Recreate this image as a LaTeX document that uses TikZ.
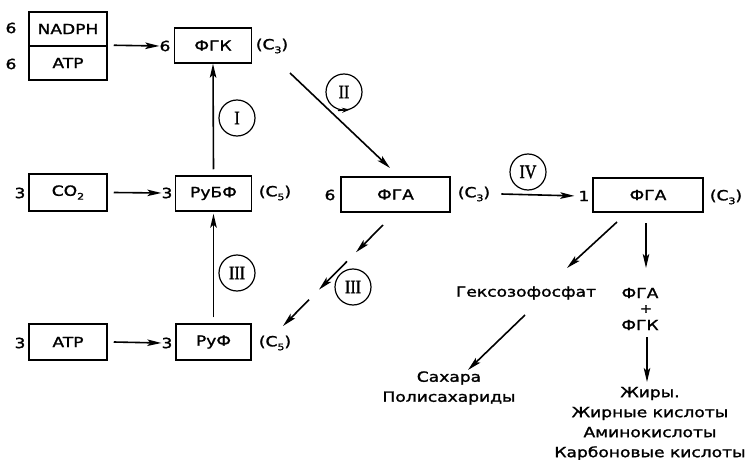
\documentclass[tikz,border=0pt]{standalone}
\usepackage{fontspec}
\setmainfont{DejaVu Sans}[FakeStretch=1.22,FakeBold=1.6]
\newfontfamily\romfont{Liberation Serif}[FakeStretch=0.85,FakeBold=1.5]
\usetikzlibrary{arrows.meta,calc}
\newcommand\Cs[1]{(C\raisebox{-0.5ex}{\small #1})}
\begin{document}
\begin{tikzpicture}[x=1pt,y=-1pt,
  font=\fontsize{14}{16}\selectfont,
  box/.style={draw,line width=1.5pt,minimum height=35pt,inner sep=0pt},
  arr/.style={line width=1.6pt,-{Stealth[length=14pt,width=6.5pt,inset=3pt]}},
  ring/.style={draw,circle,line width=1.2pt,minimum size=36pt,inner sep=0pt,font=\romfont\fontsize{19}{19}\selectfont},
  lbl/.style={inner sep=0pt},
  multi/.style={align=center,inner sep=0pt,font=\fontsize{14}{20}\selectfont}]
\useasboundingbox (0,0) rectangle (745,460);
% boxes
\node[box,minimum width=78pt,minimum height=34pt] (nadph) at (68,29) {NADPH};
\node[box,minimum width=78pt,minimum height=34pt] (atpA) at (68,63) {ATP};
\node[box,minimum width=77pt] (fgk) at (213,45.5) {ФГК};
\node[box,minimum width=78pt,minimum height=37pt] (co2) at (68,192.5) {CO\raisebox{-0.5ex}{\small 2}};
\node[box,minimum width=76pt] (rubf) at (213.5,193.5) {РуБФ};
\node[box,minimum width=109pt] (fgaA) at (395.5,194.5) {ФГА};
\node[box,minimum width=110pt,minimum height=34pt] (fgaB) at (648,195) {ФГА};
\node[box,minimum width=78pt,minimum height=36pt] (atpB) at (68,342) {ATP};
\node[box,minimum width=75pt,minimum height=36pt] (ruf) at (213.5,342) {РуФ};
% coefficients
\node[lbl] (n1) at (11,28) {6};
\node[lbl] (n2) at (11,64) {6};
\node[lbl] (n3) at (165,46) {6};
\node[lbl] (n4) at (20,193) {3};
\node[lbl] (n5) at (167,193) {3};
\node[lbl] (n6) at (330,195) {6};
\node[lbl] (n7) at (584,196) {1};
\node[lbl] (n8) at (20,343) {3};
\node[lbl] (n9) at (167,343) {3};
% carbon labels
\node[lbl] (c1) at (272,46) {\Cs3};
\node[lbl] (c2) at (275,193) {\Cs5};
\node[lbl] (c3) at (474,194) {\Cs3};
\node[lbl] (c4) at (726,197) {\Cs3};
\node[lbl] (c5) at (275,343) {\Cs5};
% circles
\node[ring] (r1) at (237,118) {I};
\node[ring] (r2) at (344,92) {II};
\node[ring] (r3) at (237,273) {III};
\node[ring] (r4) at (353,287) {III};
\node[ring] (r5) at (528,172) {IV};
\draw[line width=1.2pt,-{Stealth[length=8pt,width=5pt]}] ([xshift=-6pt]r2.south) -- ([xshift=6pt,yshift=1pt]r2.south);
% right texts
\node (hexo) at (526,293) {Гексозофосфат};
\node[lbl] (fgaS) at (640,293) {ФГА};
\node[lbl,font=\fontsize{12}{12}\selectfont] (plus) at (646,309) {+};
\node[lbl] (fgkS) at (640,325) {ФГК};
\node[multi] (sug) at (449,388) {Сахара\\Полисахариды};
\node[multi] (fat) at (650,423.5) {Жиры.\\Жирные кислоты\\Аминокислоты\\Карбоновые кислоты};
% free-end coordinates
\coordinate (IIa) at (290,73);
\coordinate (IIb) at (390,168);
\coordinate (S) at (383,225);
\coordinate (E) at (283,326);
\coordinate (ha) at (617,222);
\coordinate (hb) at (567,268);
\coordinate (va) at (646,223);
\coordinate (vb) at (646,268);
\coordinate (sa) at (525,315);
\coordinate (sb) at (468,370);
\coordinate (fa) at (647,337);
\coordinate (fb) at (647,382);
% arrows
\draw[arr] ([xshift=6pt]atpA.north east) -- (n3.west);
\draw[arr] ([xshift=6pt]co2.east) -- (n5.west);
\draw[arr] ([xshift=6pt]atpB.east) -- (n9.west);
\draw[arr] ([yshift=6pt]rubf.north) -- (fgk.south);
\draw[arr] ([yshift=6pt]ruf.north) -- ([yshift=-2pt]rubf.south);
\draw[arr] (IIa) -- (IIb);
\draw[arr,shorten >=4pt] ([xshift=11pt]c3.east) -- (n7.west);
\draw[arr] (S) -- ($(S)!0.27!(E)$);
\draw[arr] ($(S)!0.36!(E)$) -- ($(S)!0.64!(E)$);
\draw[arr] ($(S)!0.74!(E)$) -- (E);
\draw[arr] (ha) -- (hb);
\draw[arr] (va) -- (vb);
\draw[arr] (sa) -- (sb);
\draw[arr] (fa) -- (fb);
\end{tikzpicture}
\end{document}
